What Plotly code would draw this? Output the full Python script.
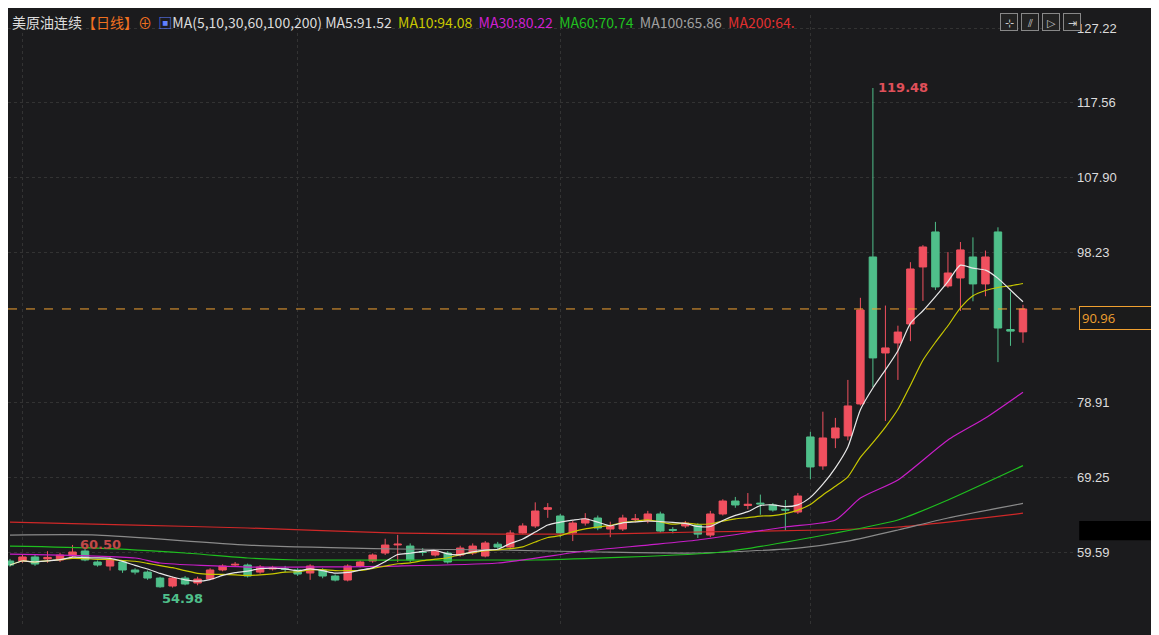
import plotly.graph_objects as go
import pandas as pd

opens = [58.43,58.43,58.95,58.7,58.56,59.07,59.72,58.3,57.78,58.3,57.27,57.0,56.23,55.2,56.23,55.59,56.1,57.27,57.91,57.91,
         57.0,57.4,57.4,57.27,56.88,57.27,56.49,55.97,57.78,58.43,59.46,60.5,60.36,59.6,59.2,59.46,59.2,59.46,59.07,60.6,
         60.23,62.04,62.95,65.1,64.24,62.04,63.33,63.98,62.56,62.56,63.8,63.59,64.5,62.5,62.95,63.07,61.78,64.5,66.17,65.6,
         65.9,65.66,65.1,64.75,74.44,70.7,74.31,74.57,78.7,97.67,85.28,86.57,89.02,96.38,100.9,93.93,94.96,97.67,94.19,100.9,
         88.3,88.0]
highs = [58.7,59.3,59.2,59.7,59.5,60.5,60.1,58.5,58.9,58.5,57.5,57.2,56.4,56.4,56.5,56.4,57.5,58.0,58.3,58.1,
         57.9,57.8,57.8,57.5,58.0,57.5,56.7,58.0,58.5,59.4,61.3,61.8,60.7,60.1,59.9,59.7,60.4,60.7,61.0,60.9,
         62.4,63.3,66.0,65.9,64.5,63.6,64.6,64.3,63.5,64.4,64.5,64.9,64.8,62.8,63.6,63.3,64.9,66.4,66.7,67.2,
         67.0,65.9,66.3,67.2,75.1,77.7,76.9,81.8,92.4,119.48,91.4,88.8,97.0,99.2,102.2,98.3,99.6,100.2,98.5,101.5,
         93.2,91.5]
lows = [57.7,58.2,57.8,58.2,58.3,58.9,58.4,57.7,57.2,56.9,56.7,56.0,54.98,55.0,55.3,55.3,56.0,57.1,57.7,56.3,
        56.8,57.2,57.0,56.5,56.0,56.2,55.8,55.8,57.6,58.2,59.2,58.3,58.3,59.1,59.0,58.1,59.0,59.2,58.9,60.0,
        60.0,61.9,62.7,64.0,61.5,61.0,63.0,62.4,61.5,62.3,63.4,63.3,62.1,62.0,62.7,61.4,61.5,64.3,65.3,65.1,
        64.4,64.8,62.4,64.5,69.0,70.2,73.0,74.0,78.5,80.89,76.5,81.8,86.8,92.0,93.4,93.7,90.7,91.95,92.6,84.1,
        86.2,86.6]
closes = [57.91,58.95,58.04,58.9,59.2,59.59,58.56,57.91,58.56,57.27,57.0,56.23,55.1,56.23,55.46,56.1,57.27,57.78,58.0,56.49,
          57.65,57.55,57.35,56.75,57.78,56.49,55.97,57.78,58.3,59.2,60.49,60.6,58.56,59.55,59.72,58.3,60.1,60.36,60.75,60.23,
          62.04,62.95,64.88,65.3,62.04,63.33,63.85,62.69,62.95,63.98,63.85,64.5,62.3,62.4,63.33,61.9,64.5,66.17,65.66,65.75,
          65.8,65.01,65.0,66.82,70.57,74.31,75.6,78.44,90.83,84.64,85.93,87.98,96.12,98.96,93.8,95.6,98.58,94.19,97.67,88.5,
          88.1,90.96]
idx = list(range(len(closes)))

ma30_i = [0,10,12,19,31,39,46,51,55,62,66,68,71,75,78,81]
ma30_v = [59.33,58.82,58.17,57.65,57.78,58.17,59.72,60.49,61.14,62.82,63.72,66.56,68.89,74.05,76.89,80.22]
ma60_i = [0,7,14,19,23,39,42,57,66,71,75,81]
ma60_v = [60.36,60.1,59.46,58.82,58.56,58.56,58.56,59.59,62.04,63.72,66.30,70.74]
ma100_i = [0,7,19,31,39,47,55,63,67,71,75,81]
ma100_v = [61.78,61.78,60.49,59.98,59.85,59.59,59.46,60.1,61.0,62.43,63.98,65.86]
ma200_i = [0,10,19,31,39,47,55,65,71,75,81]
ma200_v = [63.46,63.07,62.69,62.04,61.91,61.91,62.17,62.43,62.82,63.46,64.6]

ytick_vals = [127.22,117.56,107.90,98.23,78.91,69.25,59.59]
last_price = 90.96

s = pd.Series(closes)
ma5 = s.rolling(5, min_periods=1).mean()
ma10 = s.rolling(10, min_periods=1).mean()

fig = go.Figure()
fig.add_trace(go.Candlestick(x=idx, open=opens, high=highs, low=lows, close=closes,
    increasing=dict(line=dict(color="#f0505f", width=1), fillcolor="#f0505f"),
    decreasing=dict(line=dict(color="#4fbf8a", width=1), fillcolor="#4fbf8a"),
    whiskerwidth=0, showlegend=False, hoverinfo="skip"))
for xs, ys, c in [(ma200_i, ma200_v, "#d02828"), (ma100_i, ma100_v, "#8a8a8a"),
                  (ma60_i, ma60_v, "#1fbf1f"), (ma30_i, ma30_v, "#c81ec8"),
                  (idx, ma10, "#c8c800"), (idx, ma5, "#e8e8e8")]:
    fig.add_trace(go.Scatter(x=xs, y=ys, mode="lines", line=dict(color=c, width=1.2, shape="spline", smoothing=0.6),
                             showlegend=False, hoverinfo="skip"))

fig.add_hline(y=last_price, line=dict(color="#f0a030", width=1, dash="dash"))

bold = "DejaVu Sans"
ann = [
    dict(x=69, y=119.48, text="<b>119.48</b>", xanchor="left", xshift=3, font=dict(color="#e0505a", size=13, family=bold), showarrow=False),
    dict(x=12, y=54.98, text="<b>54.98</b>", xanchor="left", yanchor="top", yshift=-1, font=dict(color="#4fbf8a", size=13, family=bold), showarrow=False),
    dict(x=5.3, y=60.5, text="<b>60.50</b>", xanchor="left", yanchor="middle", xshift=2, font=dict(color="#c04848", size=13, family=bold), showarrow=False),
    dict(xref="paper", yref="y", x=1.003, y=last_price, text="90.96", xanchor="left", showarrow=False,
         font=dict(color="#f0a030", size=13), bordercolor="#f0a030", borderwidth=1, bgcolor="#1b1b1b", borderpad=2, yshift=-9, width=80, align="left"),
    dict(xref="paper", yref="paper", x=0.002, y=0.989, xanchor="left", yanchor="middle", showarrow=False,
         font=dict(size=14, family="Noto Sans CJK SC", color="#dcdcdc"),
         text=("美原油连续<span style='color:#f07020'>【日线】⊕ </span> <span style='color:#6080ff'>▣</span>MA(5,10,30,60,100,200) MA5:91.52  "
               "<span style='color:#c8c800'>MA10:94.08</span>  <span style='color:#d020d0'>MA30:80.22</span>  "
               "<span style='color:#20c020'>MA60:70.74</span>  <span style='color:#a0a0a0'>MA100:65.86</span>  "
               "<span style='color:#e03030'>MA200:64.</span>")),
]
for k, g in enumerate(["⊹", "⫽", "▷", "⇥"]):
    ann.append(dict(xref="paper", yref="paper", x=0.929 + k*0.0195, y=0.989, xanchor="left", yanchor="middle", showarrow=False,
                    text=g, font=dict(size=11, color="#cccccc"), bordercolor="#888", borderwidth=1, bgcolor="#222", width=14, height=14))
fig.update_layout(annotations=ann)

fig.add_shape(type="rect", xref="paper", yref="y", x0=1.003, x1=1.085, y0=61.1, y1=63.6,
              fillcolor="#000000", line=dict(width=0))

fig.update_layout(
    width=1159, height=635, paper_bgcolor="#1b1b1d", plot_bgcolor="#1b1b1d",
    margin=dict(l=0, r=91, t=7, b=18), boxgap=0.15,
    xaxis=dict(range=[-0.16, 85.24], rangeslider=dict(visible=False), tickvals=[1, 23, 44, 64],
               showticklabels=False, showgrid=True, gridcolor="#333", griddash="dot", zeroline=False, showline=False),
    yaxis=dict(range=[50.17, 128.9], side="right", tickvals=ytick_vals, ticktext=[f"{v:.2f}" for v in ytick_vals],
               showgrid=True, gridcolor="#333", griddash="dot", zeroline=False, ticks="",
               tickfont=dict(color="#dcdcdc", size=13, family="Arial")),
)
fig.write_html("out.html")
